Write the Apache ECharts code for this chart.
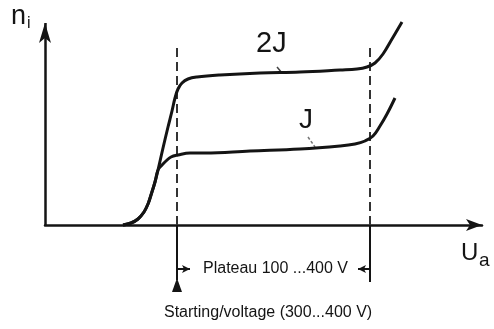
<!DOCTYPE html>
<html>
<head>
<meta charset="utf-8">
<script src="https://cdn.jsdelivr.net/npm/echarts@6/dist/echarts.min.js"></script>
<style>
  html, body { margin: 0; padding: 0; background: #fff; }
  #chart { width: 494px; height: 329px; }
</style>
</head>
<body>
<div id="chart"></div>
<script>
// Counter characteristic: ion count n_i against anode voltage U_a
// for two radiation intensities (J and 2J). Arbitrary schematic units.
const curve2J = [
  [78, 0], [86, 2], [93, 6], [99, 13], [103, 21], [106, 30], [110, 43],
  [113, 55], [118, 77], [123, 98], [127, 114], [130, 127], [133, 136],
  [137, 142], [143, 146], [152, 148], [175, 150], [215, 152], [255, 153],
  [295, 155], [312, 156], [322, 158], [330, 162], [338, 171], [347, 186],
  [357, 203]
];
const curveJ = [
  [78, 0], [86, 2], [93, 6], [99, 13], [103, 21], [106, 30], [110, 43],
  [113, 55], [117, 60], [121, 64], [126, 68], [133, 70], [145, 72],
  [160, 72], [205, 74], [255, 76], [295, 79], [310, 81], [320, 84],
  [328, 89], [335, 99], [342, 111], [350, 127]
];
// Plateau limits on the voltage axis
const plateauStart = 132;
const plateauEnd = 325;
const guideTop = [180, 182];      // upper ends of the dashed guides
const guideBottom = [-55, -57];   // lower ends of the solid bars
const plateauArrowY = -44;
const starterY = -60;
const axisTopY = 202;
const xMax = 437, yMin = -70, yMax = 212;

const INK = '#141414';
const FONT = '"Liberation Sans", Arial, sans-serif';

const chart = echarts.init(document.getElementById('chart'), null, { renderer: 'canvas' });

const dashStyle = { color: '#333', width: 2, type: [9, 5] };
const solidStyle = { color: INK, width: 2, type: 'solid' };

chart.setOption({
  animation: false,
  backgroundColor: '#fff',
  grid: { left: 45, right: 494 - 45 - xMax, top: 13, bottom: 34 },
  xAxis: {
    type: 'value', min: 0, max: xMax,
    axisLine: { onZero: true, symbol: ['none', 'arrow'], symbolSize: [9, 16],
      lineStyle: { color: INK, width: 2.5 } },
    axisTick: { show: false }, axisLabel: { show: false }, splitLine: { show: false }
  },
  yAxis: {
    type: 'value', min: yMin, max: yMax,
    axisLine: { show: false }, axisTick: { show: false },
    axisLabel: { show: false }, splitLine: { show: false }
  },
  series: [
    {
      name: '2J', type: 'line', data: curve2J, smooth: 0.4, symbol: 'none',
      lineStyle: { color: INK, width: 3 }, z: 5
    },
    {
      name: 'J', type: 'line', data: curveJ, smooth: 0.4, symbol: 'none',
      lineStyle: { color: INK, width: 3 }, z: 5
    },
    {
      // axis, guide lines, plateau bracket and starter marker
      type: 'line', data: [], silent: true,
      markPoint: {
        silent: true, animation: false, label: { show: false },
        data: [
          { coord: [plateauStart, starterY], symbol: 'triangle', symbolSize: [10, 14],
            itemStyle: { color: INK } }
        ]
      },
      markLine: {
        silent: true, animation: false, label: { show: false },
        symbol: ['none', 'none'],
        data: [
          // vertical axis with arrow head
          [{ coord: [0, 0], lineStyle: { color: INK, width: 2.5, type: 'solid' } },
           { coord: [0, axisTopY], symbol: 'arrow', symbolSize: [9, 20] }],
          // dashed guides above the voltage axis
          [{ coord: [plateauStart, 0], lineStyle: dashStyle }, { coord: [plateauStart, guideTop[0]] }],
          [{ coord: [plateauEnd, 0], lineStyle: dashStyle }, { coord: [plateauEnd, guideTop[1]] }],
          // solid bars below the axis
          [{ coord: [plateauStart, 0], lineStyle: solidStyle }, { coord: [plateauStart, guideBottom[0]] }],
          [{ coord: [plateauEnd, 0], lineStyle: solidStyle }, { coord: [plateauEnd, guideBottom[1]] }],
          // plateau bracket arrows
          [{ coord: [plateauStart, plateauArrowY], lineStyle: solidStyle },
           { coord: [plateauStart + 13, plateauArrowY], symbol: 'arrow', symbolSize: [6, 8] }],
          [{ coord: [plateauEnd, plateauArrowY], lineStyle: solidStyle },
           { coord: [plateauEnd - 12, plateauArrowY], symbol: 'arrow', symbolSize: [6, 8] }],
          // label leaders
          [{ coord: [232, 158], lineStyle: { color: '#444', width: 1.5, type: 'solid' } }, { coord: [237, 152] }],
          [{ coord: [263, 88], lineStyle: { color: '#777', width: 1.5, type: [3, 2] } }, { coord: [270, 78] }]
        ]
      }
    }
  ],
  graphic: [
    { type: 'text', left: 11, top: 3, style: { text: 'n', font: '27px ' + FONT, fill: INK } },
    { type: 'text', left: 27, top: 16, style: { text: 'i', font: '16px ' + FONT, fill: INK } },
    { type: 'text', left: 461, top: 241, style: { text: 'U', font: '24px ' + FONT, fill: INK } },
    { type: 'text', left: 479, top: 251, style: { text: 'a', font: '19px ' + FONT, fill: INK } },
    { type: 'text', left: 256, top: 29, style: { text: '2J', font: '29px ' + FONT, fill: INK } },
    { type: 'text', left: 299, top: 106, style: { text: 'J', font: '28px ' + FONT, fill: INK } },
    { type: 'text', left: 203, top: 261, style: { text: 'Plateau 100 ...400 V', font: '16px ' + FONT, fill: INK } },
    { type: 'text', left: 164, top: 305, style: { text: 'Starting/voltage (300...400 V)', font: '16px ' + FONT, fill: INK } }
  ]
});
</script>
</body>
</html>
